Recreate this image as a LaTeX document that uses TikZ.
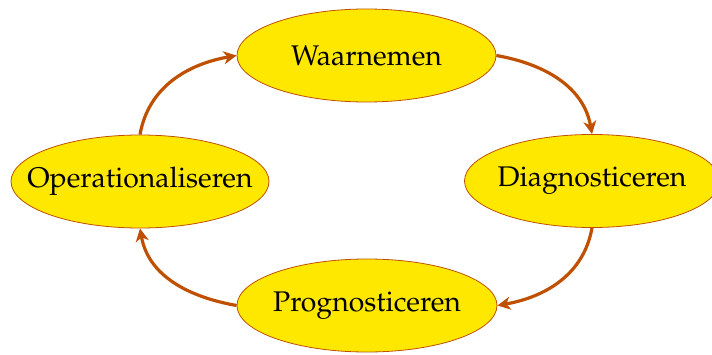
\documentclass[tikz,border=0pt]{standalone}
\usepackage[T1]{fontenc}
\usepackage{mathpazo}
\usetikzlibrary{shapes.geometric,arrows.meta}
\definecolor{nodefill}{RGB}{255,232,0}
\definecolor{arrowbrown}{RGB}{190,80,0}
\tikzset{
  phase/.style={ellipse, draw=arrowbrown, line width=0.4pt, fill=nodefill,
    inner sep=0pt, minimum height=46.5pt, font=\fontsize{14.2}{17}\selectfont},
  cyclearrow/.style={draw=arrowbrown, line width=1.6pt,
    -{Stealth[length=6.5pt,width=6.5pt,inset=2pt]}}
}
\begin{document}
\begin{tikzpicture}[x=0.5pt,y=0.5pt]
\useasboundingbox (0,0) rectangle (712,354);
\node[phase, minimum width=129.5pt] (W) at (366.5,298.5) {\makebox[0pt]{Waarnemen}};
\node[phase, minimum width=127.5pt] (D) at (592,173) {\makebox[0pt]{Diagnosticeren}};
\node[phase, minimum width=129pt] (O) at (140,172.5) {\makebox[0pt]{Operationaliseren}};
\node[phase, minimum width=130pt] (P) at (367,48.5) {\makebox[0pt]{Prognosticeren}};
\draw[cyclearrow] (W.east) to[out=-10,in=100] (D.north);
\draw[cyclearrow] (D.south) to[out=-100,in=10] (P.east);
\draw[cyclearrow] (P.west) to[out=170,in=-80] (O.south);
\draw[cyclearrow] (O.north) to[out=80,in=190] (W.west);
\end{tikzpicture}
\end{document}
